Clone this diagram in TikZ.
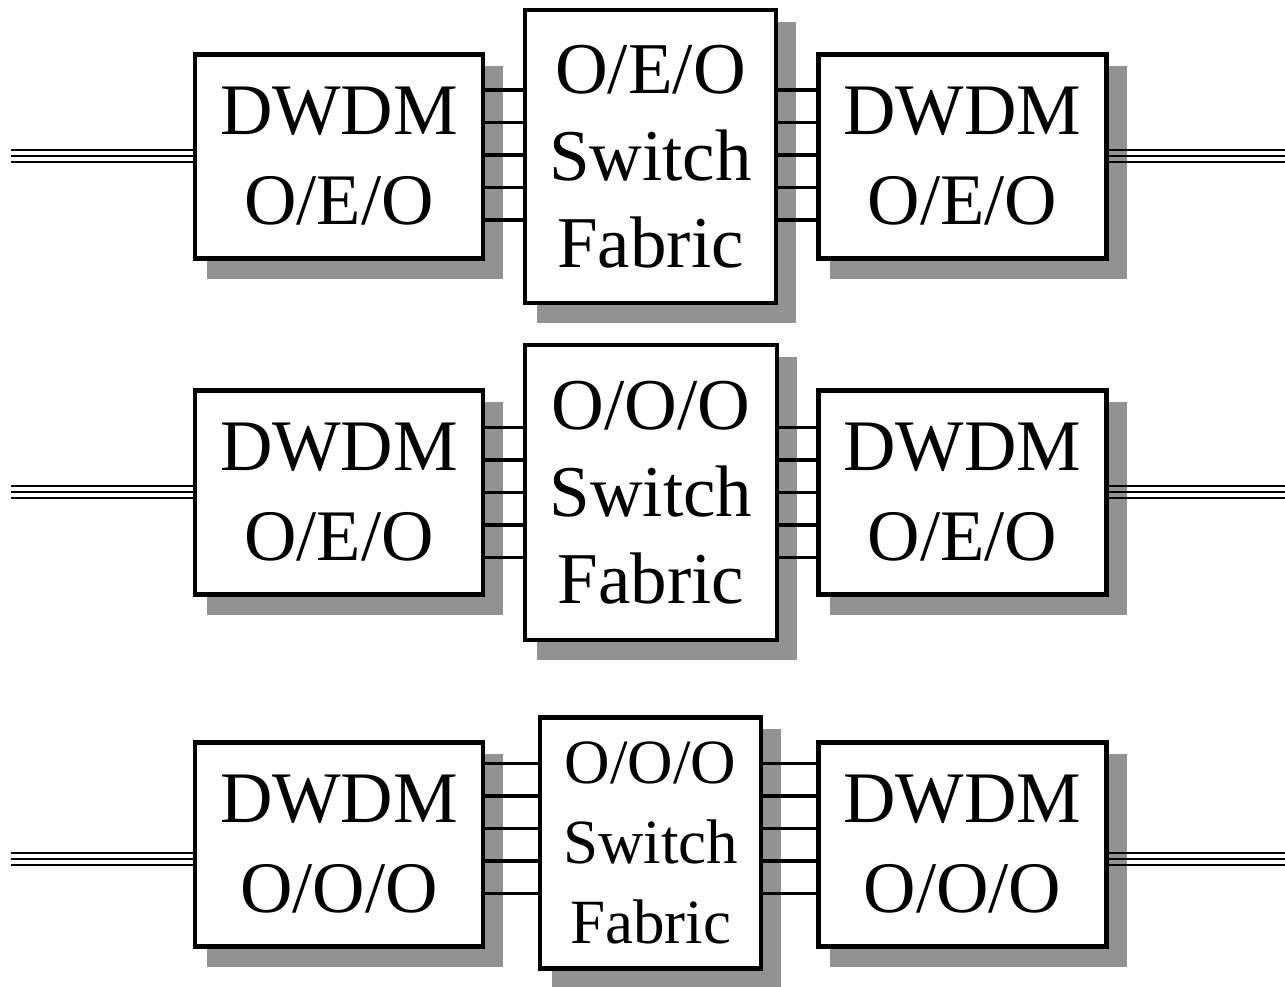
\documentclass[tikz,border=0pt]{standalone}
\usepackage{fontspec}
\setmainfont{Liberation Serif}
\usetikzlibrary{backgrounds}
\definecolor{shadowgray}{RGB}{146,146,146}
\begin{document}
\begin{tikzpicture}[x=1pt,y=-1pt,
  box/.style={draw, line width=4.2pt, fill=white, inner sep=0pt, align=center},
  dwdm/.style={box, minimum width=288pt, minimum height=204pt, font=\fontsize{72.6}{90}\selectfont},
  fabric/.style={box, font=\fontsize{73}{87}\selectfont},
  smallfabric/.style={box, font=\fontsize{63}{80}\selectfont},
  conn/.style={line width=3.8pt},
  fiber/.style={line width=2.4pt},
  shade/.style={fill=shadowgray}]
\useasboundingbox (0,0) rectangle (1285,987);

% row 1
\node[dwdm] (a1) at (339,156.5) {DWDM\\O/E/O};
\node[fabric, minimum width=251pt, minimum height=293pt] (s1) at (650.5,156.5) {O/E/O\\Switch\\Fabric};
\node[dwdm] (b1) at (962.5,156.5) {DWDM\\O/E/O};
% row 2
\node[dwdm] (a2) at (339,492.5) {DWDM\\O/E/O};
\node[fabric, minimum width=252pt, minimum height=295pt] (s2) at (651,492.5) {O/O/O\\Switch\\Fabric};
\node[dwdm] (b2) at (962.5,492.5) {DWDM\\O/E/O};
% row 3
\node[dwdm] (a3) at (339,844.5) {DWDM\\O/O/O};
\node[smallfabric, minimum width=221pt, minimum height=251pt] (s3) at (650.5,843) {O/O/O\\Switch\\Fabric};
\node[dwdm] (b3) at (962.5,844.5) {DWDM\\O/O/O};

% shadows
\begin{scope}[on background layer]
\foreach \n in {a1,s1,b1,a2,s2,b2,a3,s3,b3}
  \fill[shade] ([shift={(14,14)}]\n.north west) rectangle ([shift={(18,18)}]\n.south east);
\end{scope}

% parallel connectors
\foreach \r/\c in {1/155,2/492.5,3/828.5}{
  \foreach \d in {-65,-32.5,0,32.5,65}{
    \draw[conn] (a\r.east |- 0,\c+\d) -- (s\r.west |- 0,\c+\d);
    \draw[conn] (s\r.east |- 0,\c+\d) -- (b\r.west |- 0,\c+\d);
  }
}

% fibres (triple lines)
\foreach \r/\y in {1/156,2/492,3/859}{
  \coordinate (L\r) at (11,\y);
  \coordinate (R\r) at (1285,\y);
  \foreach \o in {-6,0,6}{
    \draw[fiber] (L\r) ++(0,\o) -- (a\r.west |- 0,\y+\o);
    \draw[fiber] (R\r) ++(0,\o) -- (b\r.east |- 0,\y+\o);
  }
}
\end{tikzpicture}
\end{document}
